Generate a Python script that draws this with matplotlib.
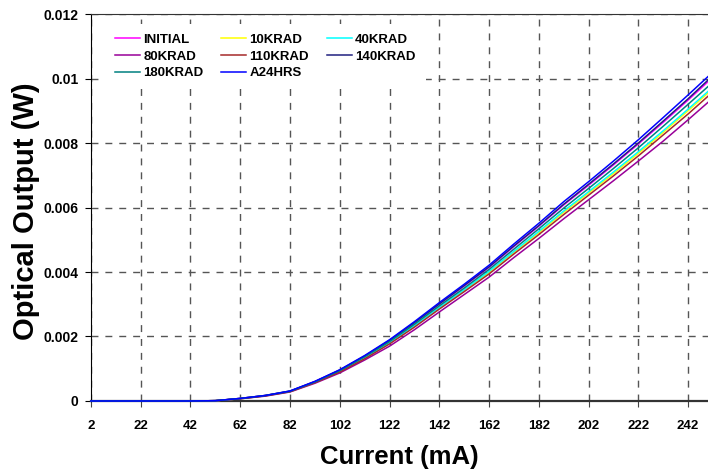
import matplotlib.pyplot as plt

# current (mA)
current = [2, 12, 22, 32, 42, 52, 62, 72, 82, 92, 102, 112, 122, 132, 142,
           152, 162, 172, 182, 192, 202, 212, 222, 232, 242, 250]

# optical output (W) per dose
initial = [0, 0, 0, 0, 0, 0.00001, 0.00008, 0.00017, 0.00030, 0.00060, 0.00095, 0.00139, 0.00187,
           0.00242, 0.00300, 0.00356, 0.00414, 0.00479, 0.00542, 0.00608, 0.00669, 0.00732,
           0.00797, 0.00864, 0.00933, 0.00990]
krad10 = [0, 0, 0, 0, 0, 0.00001, 0.00007, 0.00016, 0.00029, 0.00058, 0.00092, 0.00133, 0.00180,
          0.00233, 0.00289, 0.00343, 0.00399, 0.00461, 0.00522, 0.00585, 0.00645, 0.00705,
          0.00768, 0.00833, 0.00900, 0.00955]
krad40 = [0, 0, 0, 0, 0, 0.00001, 0.00007, 0.00016, 0.00030, 0.00058, 0.00092, 0.00134, 0.00181,
          0.00234, 0.00290, 0.00345, 0.00402, 0.00464, 0.00526, 0.00589, 0.00649, 0.00710,
          0.00773, 0.00838, 0.00905, 0.00960]
krad80 = [0, 0, 0, 0, 0, 0.00001, 0.00007, 0.00015, 0.00028, 0.00055, 0.00087, 0.00127, 0.00170,
          0.00221, 0.00276, 0.00330, 0.00384, 0.00445, 0.00504, 0.00565, 0.00624, 0.00683,
          0.00744, 0.00806, 0.00872, 0.00926]
krad110 = [0, 0, 0, 0, 0, 0.00001, 0.00007, 0.00016, 0.00029, 0.00057, 0.00090, 0.00131, 0.00177,
           0.00229, 0.00285, 0.00339, 0.00394, 0.00456, 0.00516, 0.00578, 0.00638, 0.00698,
           0.00760, 0.00825, 0.00890, 0.00945]
krad140 = [0, 0, 0, 0, 0, 0.00001, 0.00008, 0.00017, 0.00031, 0.00060, 0.00096, 0.00139, 0.00188,
           0.00243, 0.00301, 0.00358, 0.00416, 0.00481, 0.00544, 0.00610, 0.00672, 0.00735,
           0.00800, 0.00868, 0.00937, 0.00995]
krad180 = [0, 0, 0, 0, 0, 0.00001, 0.00008, 0.00017, 0.00030, 0.00059, 0.00094, 0.00137, 0.00184,
           0.00238, 0.00295, 0.00350, 0.00408, 0.00471, 0.00534, 0.00598, 0.00659, 0.00721,
           0.00785, 0.00852, 0.00920, 0.00975]
a24hrs = [0, 0, 0, 0, 0, 0.00001, 0.00008, 0.00017, 0.00031, 0.00061, 0.00097, 0.00141, 0.00190,
          0.00246, 0.00305, 0.00362, 0.00421, 0.00487, 0.00551, 0.00618, 0.00680, 0.00744,
          0.00810, 0.00879, 0.00949, 0.01006]

names = ['INITIAL', '10KRAD', '40KRAD', '80KRAD', '110KRAD', '140KRAD', '180KRAD', 'A24HRS']
series = [initial, krad10, krad40, krad80, krad110, krad140, krad180, a24hrs]
colors = ['#ff00ff', '#ffff00', '#00ffff', '#990099', '#a52a2a', '#202080', '#008080', '#0000ff']

xticks = [2, 22, 42, 62, 82, 102, 122, 142, 162, 182, 202, 222, 242]
yticks = [0, 0.002, 0.004, 0.006, 0.008, 0.01, 0.012]
ylabels = ['0', '0.002', '0.004', '0.006', '0.008', '0.01', '0.012']

plt.rcParams['font.family'] = ['Liberation Sans', 'DejaVu Sans']

fig = plt.figure(figsize=(7.08, 4.75), dpi=100)
ax = fig.add_axes([0.1285, 0.1558, 0.8715, 0.8147])

lines = {}
for name, vals, c in zip(names, series, colors):
    lines[name], = ax.plot(current, vals, color=c, lw=1.1, label=name, zorder=3, clip_on=False)

ax.set_xlim(2, 250)
ax.set_ylim(0, 0.012)
ax.set_xticks(xticks)
ax.set_xticklabels([str(t) for t in xticks], fontweight='bold', fontsize=9.5)
ax.set_yticks(yticks)
ax.set_yticklabels(ylabels, fontweight='bold', fontsize=10)
ax.tick_params(axis='x', direction='out', length=4, pad=10, color='#444444')
ax.tick_params(axis='y', direction='out', length=4, pad=5)

ax.grid(True, linestyle=(0, (5, 5)), color='#555555', lw=1.0)
ax.set_axisbelow(True)
ax.spines['right'].set_visible(False)
ax.spines['top'].set_color('#333333')
ax.spines['left'].set_color('black')
ax.spines['bottom'].set_linewidth(1.6)
ax.spines['bottom'].set_color('#333333')

ax.set_xlabel('Current (mA)', fontweight='bold', fontsize=18.5, labelpad=9)
ax.set_ylabel('Optical Output (W)', fontweight='bold', fontsize=21)
ax.yaxis.set_label_coords(-0.083, 0.49)

# legend filled row by row in the original, matplotlib fills column by column
order = ['INITIAL', '80KRAD', '180KRAD', '10KRAD', '110KRAD', 'A24HRS', '40KRAD', '140KRAD']
leg = ax.legend([lines[n] for n in order], order, ncol=3, frameon=True,
                loc='upper left', bbox_to_anchor=(0.0227, 0.975), borderaxespad=0,
                borderpad=0.75, fancybox=False, framealpha=1,
                prop={'weight': 'bold', 'size': 9.5}, handlelength=1.9,
                handletextpad=0.25, columnspacing=1.35, labelspacing=0.34)
leg.get_frame().set_facecolor('white')
leg.get_frame().set_edgecolor('none')
leg.set_zorder(5)

fig.savefig('out.png', dpi=100)
